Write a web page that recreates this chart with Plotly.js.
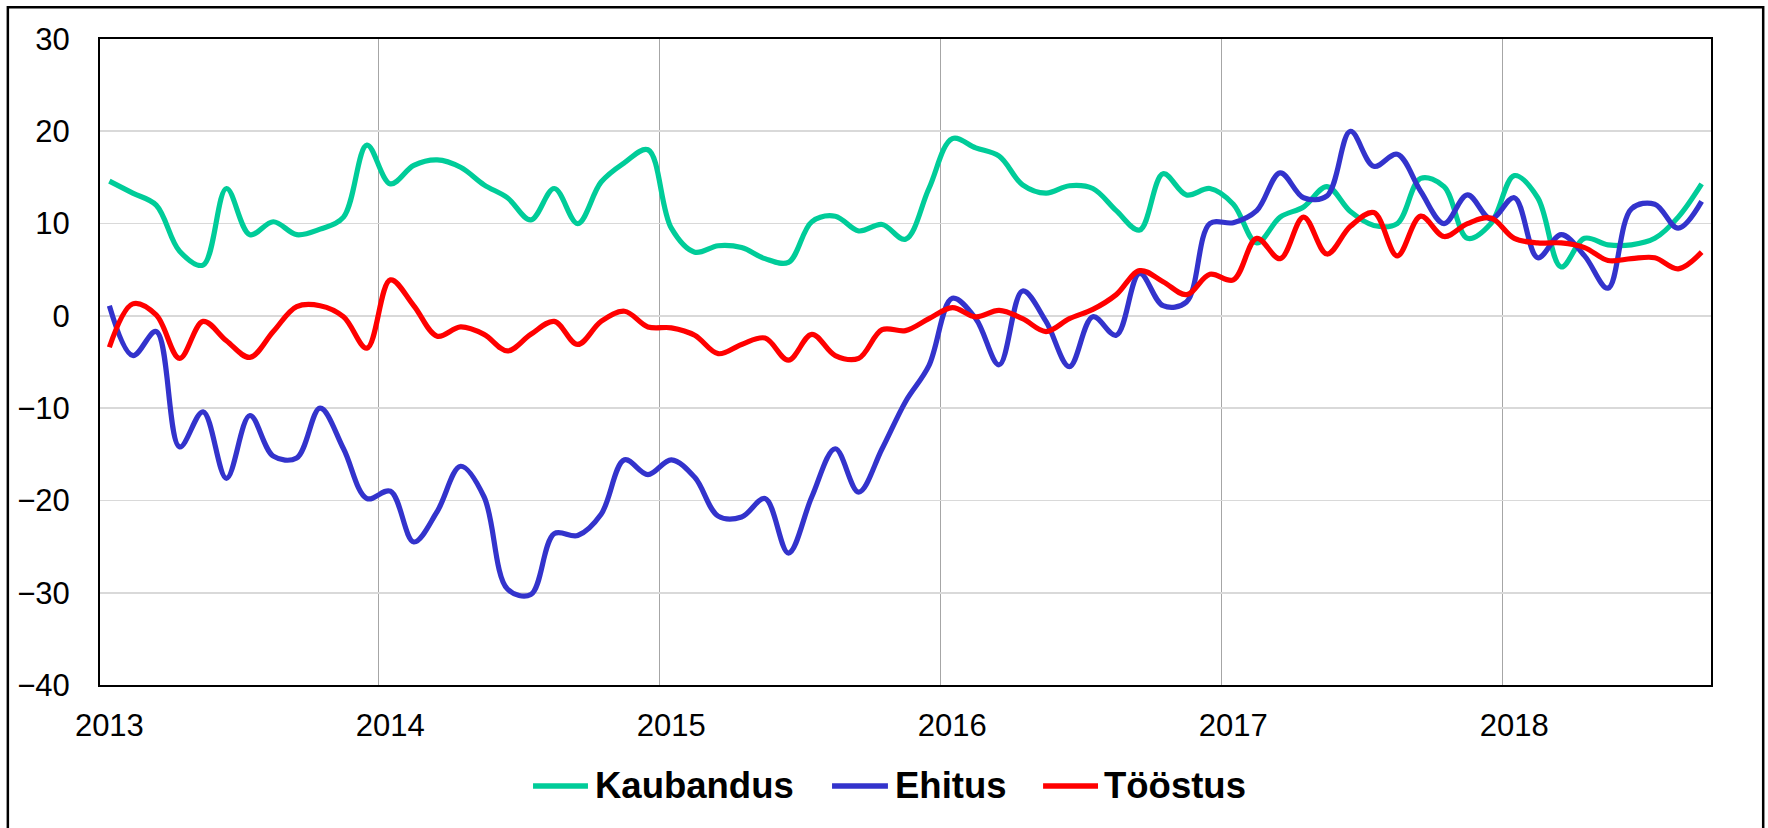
<!DOCTYPE html>
<html>
<head>
<meta charset="utf-8">
<script src="https://cdn.plot.ly/plotly-3.0.1.min.js"></script>
<style>
  html, body { margin: 0; padding: 0; background: #ffffff; }
  #chart { width: 1768px; height: 828px; }
</style>
</head>
<body>
<div id="chart"></div>
<script>
// Monthly data, January 2013 – September 2018
const monthCount = 69;

const yearLabels = ['2013', '2014', '2015', '2016', '2017', '2018'];

const seriesNames = ['Kaubandus', 'Ehitus', 'Tööstus'];

const kaubandus = [
  14.6, 13.3, 12.0, 7.0, 5.5, 13.8, 8.8, 10.2, 8.8, 9.4, 10.7, 18.5,
  14.3, 16.3, 16.9, 16.1, 14.2, 12.8, 10.4, 13.8, 10.0, 14.5, 16.6, 18.0,
  9.5, 6.9, 7.6, 7.4, 6.2, 5.8, 10.2, 10.8, 9.2, 9.9, 8.3, 13.8,
  19.2, 18.2, 17.3, 14.2, 13.3, 14.1, 13.8, 11.4, 9.3, 15.4, 13.1, 13.8,
  12.1, 7.9, 10.7, 11.8, 14.0, 11.3, 9.8, 10.0, 14.9, 14.0, 8.4, 10.0,
  15.2, 12.8, 5.3, 8.4, 7.7, 7.7, 8.4, 10.7, 14.3
];

const ehitus = [
  1.1, -4.3, -1.7, -14.2, -10.4, -17.6, -10.8, -15.2, -15.4, -10.0, -14.4, -19.8,
  -19.0, -24.5, -21.2, -16.3, -19.6, -29.6, -30.2, -23.6, -23.8, -21.5, -15.6, -17.2,
  -15.6, -17.5, -21.7, -21.8, -19.8, -25.7, -19.6, -14.4, -19.1, -14.4, -9.3, -5.4,
  1.9, -0.3, -5.3, 2.7, -0.6, -5.5, -0.1, -2.1, 4.6, 1.1, 1.5, 10.0,
  10.1, 11.4, 15.5, 12.8, 13.0, 20.0, 16.2, 17.5, 13.5, 10.0, 13.1, 10.5,
  12.8, 6.3, 8.8, 6.5, 3.0, 11.6, 12.1, 9.5, 12.4
];

const toostus = [
  -3.4, 1.3, 0.1, -4.6, -0.6, -2.7, -4.5, -1.7, 1.0, 1.1, -0.1, -3.5,
  3.9, 1.1, -2.2, -1.2, -2.0, -3.8, -2.0, -0.6, -3.1, -0.6, 0.5, -1.2,
  -1.3, -2.1, -4.1, -3.1, -2.4, -4.8, -2.0, -4.3, -4.6, -1.5, -1.6, -0.3,
  0.9, -0.1, 0.6, -0.3, -1.7, -0.3, 0.7, 2.3, 4.9, 3.7, 2.3, 4.5,
  3.9, 8.4, 6.2, 10.7, 6.7, 9.7, 11.2, 6.5, 10.8, 8.6, 10.0, 10.6,
  8.4, 7.9, 7.9, 7.4, 6.0, 6.2, 6.3, 5.1, 6.9
];

const seriesColors = ['#00CC99', '#3333CC', '#FF0000'];

// month index positions on a category-like numeric axis
const monthIdx = Array.from({length: monthCount}, (_, i) => i);
const yearTickVals = yearLabels.map((_, k) => k * 12);
const yearBoundaries = yearLabels.slice(1).map((_, k) => (k + 1) * 12 - 0.5);

const seriesData = [kaubandus, ehitus, toostus];
const traces = seriesData.map((vals, s) => ({
  type: 'scatter',
  mode: 'lines',
  name: seriesNames[s],
  x: monthIdx,
  y: vals,
  line: { color: seriesColors[s], width: 5.2, shape: 'spline', smoothing: 1 },
  hoverinfo: 'x+y+name'
}));

const fontFamily = '"Liberation Sans", Arial, sans-serif';

// Legend drawn below the plot (Excel-style long key lines)
const legendY = -0.1563;
const legendKeyX = [[0.2688, 0.3029], [0.4544, 0.4891], [0.5854, 0.6195]];
const legendTextX = [0.3060, 0.4922, 0.6220];

const shapes = [
  {
    type: 'rect',
    xref: 'paper', yref: 'paper',
    x0: -0.0572, x1: 1.0324,
    y0: -0.226, y1: 1.0491,
    line: { color: '#000000', width: 2.5 },
    fillcolor: 'rgba(0,0,0,0)',
    layer: 'below'
  }
];
const annotations = [];
seriesNames.forEach((nm, s) => {
  shapes.push({
    type: 'line',
    xref: 'paper', yref: 'paper',
    x0: legendKeyX[s][0], x1: legendKeyX[s][1],
    y0: legendY, y1: legendY,
    line: { color: seriesColors[s], width: 5.5, cap: 'round' }
  });
  annotations.push({
    xref: 'paper', yref: 'paper',
    x: legendTextX[s], y: legendY,
    xanchor: 'left', yanchor: 'middle',
    text: '<b>' + nm + '</b>',
    showarrow: false,
    font: { family: fontFamily, size: 36.5, color: '#000000' }
  });
});

const layout = {
  width: 1768,
  height: 828,
  margin: { l: 100, r: 57, t: 39, b: 143, pad: 0 },
  paper_bgcolor: '#ffffff',
  plot_bgcolor: '#ffffff',
  font: { family: fontFamily, size: 31, color: '#000000' },
  showlegend: false,
  xaxis: {
    range: [-0.4, 68.4],
    tickmode: 'array',
    tickvals: yearTickVals,
    ticktext: yearLabels,
    ticks: '',
    showgrid: false,
    zeroline: false,
    showline: true,
    mirror: true,
    linecolor: '#000000',
    linewidth: 2,
    ticklabelstandoff: 12,
    tickfont: { family: fontFamily, size: 31, color: '#000000' },
    minor: {
      tickmode: 'array',
      tickvals: yearBoundaries,
      showgrid: true,
      gridcolor: '#a6a6a6',
      gridwidth: 1.5,
      ticks: ''
    }
  },
  yaxis: {
    range: [-40, 30],
    tickmode: 'linear',
    tick0: 0,
    dtick: 10,
    ticks: '',
    showgrid: true,
    gridcolor: '#d9d9d9',
    gridwidth: 1.6,
    zeroline: false,
    showline: true,
    mirror: true,
    linecolor: '#000000',
    linewidth: 2,
    ticklabelstandoff: 22,
    tickfont: { family: fontFamily, size: 31, color: '#000000' }
  },
  shapes: shapes,
  annotations: annotations
};

Plotly.newPlot('chart', traces, layout, { displayModeBar: false, staticPlot: true });
</script>
</body>
</html>
